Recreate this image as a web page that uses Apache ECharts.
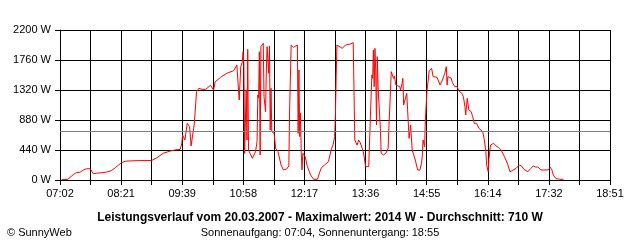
<!DOCTYPE html>
<html>
<head>
<meta charset="utf-8">
<script src="https://cdn.jsdelivr.net/npm/echarts@6/dist/echarts.min.js"></script>
<style>
  html, body { margin: 0; padding: 0; background: #fff; }
  #chart { width: 640px; height: 240px; }
</style>
</head>
<body>
<div id="chart"></div>
<script>
// Messzeitpunkte (HH:MM) und Leistung in W
const times = [
  '07:04','07:12','07:19','07:23','07:28','07:32','07:36','07:41','07:42','07:45',
  '07:49','07:55','08:02','08:08','08:13','08:17','08:21','08:26','08:32','08:45',
  '09:00','09:07','09:15','09:24','09:30','09:37','09:39','09:40','09:43','09:46',
  '09:49','09:51','09:53','09:55','09:58','10:01','10:05','10:10','10:16','10:20',
  '10:22','10:29','10:37','10:46','10:50','10:52','10:53','10:55','10:57','10:58',
  '10:59','11:00','11:02','11:03','11:04','11:05','11:07','11:10','11:14','11:16',
  '11:17','11:18','11:19','11:20','11:21','11:24','11:25','11:27','11:28','11:29',
  '11:31','11:32','11:33','11:34','11:35','11:38','11:40','11:43','11:45','11:47',
  '11:50','11:54','11:57','11:58','12:00','12:03','12:05','12:08','12:09','12:10',
  '12:11','12:12','12:13','12:14','12:15','12:18','12:21','12:25','12:29','12:34',
  '12:36','12:39','12:43','12:48','12:52','12:54','12:56','12:57','12:58','12:59',
  '13:01','13:06','13:10','13:16','13:20','13:21','13:22','13:25','13:27','13:29',
  '13:33','13:36','13:38','13:40','13:42','13:44','13:45','13:46','13:47','13:48',
  '13:49','13:50','13:51','13:52','13:55','13:56','13:59','14:02','14:05','14:06',
  '14:08','14:09','14:12','14:13','14:15','14:17','14:20','14:21','14:23','14:24',
  '14:25','14:27','14:29','14:30','14:32','14:34','14:36','14:38','14:40','14:43',
  '14:46','14:48','14:49','14:50','14:52','14:53','14:55','14:56','14:58','15:01',
  '15:03','15:08','15:12','15:15','15:18','15:20','15:21','15:22','15:26','15:28',
  '15:31','15:34','15:36','15:40','15:42','15:44','15:45','15:47','15:49','15:52',
  '15:54','15:56','15:59','16:02','16:07','16:09','16:11','16:12','16:14','16:15',
  '16:17','16:21','16:24','16:27','16:30','16:32','16:35','16:39','16:42','16:45',
  '16:50','16:54','16:57','17:00','17:05','17:09','17:12','17:15','17:18','17:22',
  '17:31','17:34','17:36','17:38','17:41','17:46','17:51'
];
const watts = [
  5,10,78,110,115,145,165,165,140,90,
  100,105,117,137,176,215,252,275,280,285,
  285,327,391,425,440,450,538,660,587,831,
  782,499,660,807,1295,1345,1330,1330,1390,1320,
  1440,1506,1565,1604,1687,1660,1173,1660,1735,1882,
  1700,391,1320,587,1917,440,391,318,415,562,
  1247,1200,1882,367,1955,2005,1222,1002,1613,1955,
  1565,1965,733,1345,709,684,464,415,415,220,
  147,160,205,1027,1980,1946,1955,1980,684,1613,
  636,978,391,147,391,342,196,73,10,10,
  88,181,220,269,464,513,636,928,1516,1980,
  1980,1931,1980,1994,2014,1295,587,513,587,548,
  415,196,186,196,880,1540,1491,1907,1369,1931,
  1613,807,1809,1369,758,391,367,391,464,782,
  1295,1589,1491,1525,1393,1418,1369,1320,1418,1491,
  1100,1080,1270,1295,611,807,440,367,293,147,
  147,244,352,587,489,880,1295,1270,1604,1638,
  1516,1506,1393,1467,1565,1662,1393,1516,1496,1427,
  1369,1369,1310,1271,1222,1075,953,1198,1027,1002,
  928,831,831,758,709,587,415,220,122,318,
  513,538,500,479,450,440,342,235,122,137,
  171,220,205,156,122,171,205,190,190,147,
  147,186,150,73,24,10,10
];
const tickLabels = ['07:02','08:21','09:39','10:58','12:17','13:36','14:55','16:14','17:32','18:51'];
const yTicks = [0, 440, 880, 1320, 1760, 2200];
const average = [710];

const startMin = 7 * 60 + 2;   // 07:02
const endMin = 18 * 60 + 51;   // 18:51
const span = endMin - startMin;

function toMin(s) {
  const p = s.split(':');
  return +p[0] * 60 + +p[1];
}

const seriesData = times.map((t, i) => [toMin(t) - startMin, watts[i]]);

const font = 'Arial, "Liberation Sans", sans-serif';

const option = {
  backgroundColor: '#fff',
  animation: false,
  title: [
    {
      text: 'Leistungsverlauf vom 20.03.2007 - Maximalwert: 2014 W - Durchschnitt: 710 W',
      left: 'center',
      top: 207,
      textStyle: { fontFamily: font, fontSize: 12, fontWeight: 'bold', color: '#000' }
    },
    {
      text: 'Sonnenaufgang: 07:04, Sonnenuntergang: 18:55',
      left: 'center',
      top: 222,
      textStyle: { fontFamily: font, fontSize: 11, fontWeight: 'normal', color: '#000' }
    },
    {
      text: '© SunnyWeb',
      left: 2,
      top: 222,
      textStyle: { fontFamily: font, fontSize: 11, fontWeight: 'normal', color: '#000' }
    }
  ],
  grid: {
    left: 60,
    top: 30,
    right: 30,
    bottom: 60,
    containLabel: false
  },
  xAxis: {
    type: 'value',
    min: 0,
    max: span,
    interval: span / 18,
    axisLine: { show: true, lineStyle: { color: '#000', width: 1 } },
    axisTick: { show: true, length: 5, lineStyle: { color: '#000' } },
    axisLabel: {
      color: '#000',
      fontFamily: font,
      fontSize: 11,
      margin: 8,
      showMaxLabel: true,
      formatter: (v, idx) => (idx % 2 === 0 ? (tickLabels[idx / 2] || '') : '')
    },
    splitLine: { show: true, lineStyle: { color: '#000', width: 1 } }
  },
  yAxis: {
    type: 'value',
    min: yTicks[0],
    max: yTicks[yTicks.length - 1],
    interval: yTicks[1] - yTicks[0],
    axisLine: { show: true, lineStyle: { color: '#000', width: 1 } },
    axisTick: { show: true, length: 5, lineStyle: { color: '#000' } },
    axisLabel: {
      color: '#000',
      fontFamily: font,
      fontSize: 11,
      margin: 9,
      formatter: (v) => Math.round(v) + ' W'
    },
    splitLine: { show: true, lineStyle: { color: '#000', width: 1 } }
  },
  series: [
    {
      type: 'line',
      data: seriesData,
      showSymbol: false,
      symbol: 'none',
      smooth: false,
      lineStyle: { color: '#ff0000', width: 1 },
      z: 3,
      markLine: {
        silent: true,
        symbol: 'none',
        label: { show: false },
        lineStyle: { color: '#808080', type: 'solid', width: 1 },
        data: [{ yAxis: average[0] }]
      }
    }
  ]
};

const myChart = echarts.init(document.getElementById('chart'), null, { renderer: 'canvas' });
myChart.setOption(option);
</script>
</body>
</html>
